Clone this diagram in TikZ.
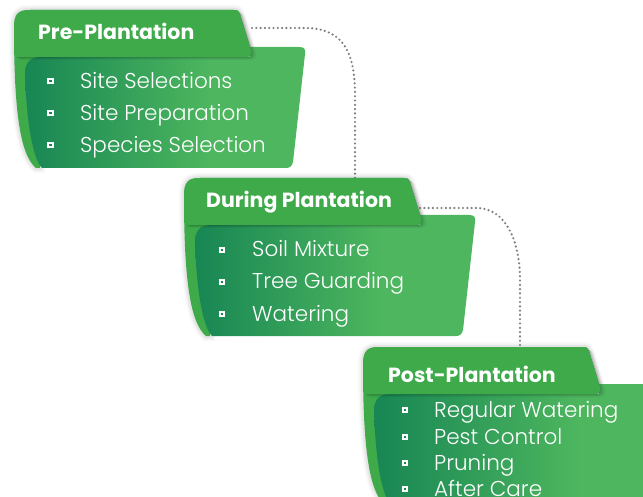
\documentclass[tikz,border=0pt]{standalone}
\usepackage{fontspec}
\setmainfont{Poppins}
\newfontfamily\itemfont{Poppins Light}
\definecolor{tabgreen}{RGB}{62,170,74}
\definecolor{pdark}{RGB}{24,134,84}
\definecolor{plight}{RGB}{77,182,94}
\definecolor{dotgray}{RGB}{125,125,125}
\pgfdeclarehorizontalshading{panelshade}{100bp}{color(0bp)=(pdark); color(25bp)=(pdark); color(58bp)=(plight); color(100bp)=(plight)}
\newcommand\backpath{(14,28) .. controls (14,14) and (18,10) .. (30,10) -- (234,10) .. controls (238,10) and (239,11) .. (240,14) -- (251,50) .. controls (252,54) and (250,57) .. (246,57) -- (40,57) -- (40,168) -- (36,168) .. controls (20,155) and (14,110) .. (14,28) -- cycle}
\newcommand\tabpath{(14,28) .. controls (14,14) and (18,10) .. (30,10) -- (234,10) .. controls (238,10) and (239,11) .. (240,14) -- (251,50) .. controls (252,54) and (250,57) .. (246,57) -- (15,57) -- cycle}
\newcommand\frontpath[1]{(25,75) .. controls (25,62) and (30,57) .. (42,57) -- (250,57) -- (250,47) -- (299+#1,47) .. controls (304+#1,47) and (306+#1,49) .. (305+#1,54) -- (293+#1,162) .. controls (292+#1,166) and (290+#1,168) .. (286+#1,168) -- (42,168) .. controls (34,160) and (27,130) .. (25,75) -- cycle}
\newcommand\drawblock[1]{%
  \foreach \lw/\op in {10/0.025,7/0.035,4/0.045} {\draw[black, opacity=\op, line width=\lw] \backpath;}
  \fill[tabgreen] \backpath;
  \shade[shading=panelshade] \frontpath{#1};
  \foreach \sx/\sy/\op in {5/3/0.05,3/2/0.07,1.5/1/0.09} {\begin{scope}[shift={(\sx,\sy)}]\fill[black, opacity=\op] \tabpath;\end{scope}}
  \fill[tabgreen] \tabpath;
}
\begin{document}
\begin{tikzpicture}[x=1pt,y=-1pt,
  head/.style={text=white, font=\fontsize{20.5}{23}\selectfont\bfseries, anchor=base west, inner sep=0pt},
  item/.style={text=white, font=\itemfont\fontsize{21.5}{24}\selectfont, anchor=base west, inner sep=0pt},
  bulletsq/.style={draw=white, line width=2pt, fill=pdark, minimum size=4.5pt, inner sep=0pt, rectangle},
  dotline/.style={dotgray, line width=2.4pt, line cap=round, dash pattern=on 0pt off 4.3pt}]
\useasboundingbox (0,0) rectangle (643,497);
\clip (0,0) rectangle (643,497);
\fill[white] (0,0) rectangle (643,497);
% connector anchors
\coordinate (c1a) at (252,28);
\coordinate (c1b) at (355,178);
\coordinate (c2a) at (420,208);
\coordinate (c2b) at (520,347);
\draw[dotline] (c1a) -- ++(53,0) .. controls +(40,0) and +(0,-40) .. ++(50,67) -- (c1b);
\draw[dotline] (c2a) -- ++(57,0) .. controls +(28,0) and +(0,-40) .. ++(43,72) -- (c2b);
% block 1
\drawblock{0}
\node[head] (h1) at (38,39.5) {Pre-Plantation};
\node[bulletsq] (b11) at (50.5,81) {};
\node[bulletsq] (b12) at (50.5,113) {};
\node[bulletsq] (b13) at (50.5,145) {};
\node[item] (i11) at (80,89) {Site Selections};
\node[item] (i12) at (80,121) {Site Preparation};
\node[item] (i13) at (80,153) {Species Selection};
% block 2
\begin{scope}[shift={(170,168)}]
\drawblock{0}
\end{scope}
\node[head] (h2) at (206,207.5) {During Plantation};
\node[bulletsq] (b21) at (222,250) {};
\node[bulletsq] (b22) at (222,282) {};
\node[bulletsq] (b23) at (222,314) {};
\node[item] (i21) at (252,257) {Soil Mixture};
\node[item] (i22) at (252,289) {Tree Guarding};
\node[item] (i23) at (252,321) {Watering};
% block 3
\begin{scope}[shift={(349,337)}]
\drawblock{30}
\end{scope}
\node[head] (h3) at (388,382.5) {Post-Plantation};
\node[bulletsq] (b31) at (405,410) {};
\node[bulletsq] (b32) at (405,437) {};
\node[bulletsq] (b33) at (405,463) {};
\node[bulletsq] (b34) at (405,489) {};
\node[item] (i31) at (434,417) {Regular Watering};
\node[item] (i32) at (434,444) {Pest Control};
\node[item] (i33) at (434,470) {Pruning};
\node[item] (i34) at (434,496) {After Care};
\end{tikzpicture}
\end{document}
